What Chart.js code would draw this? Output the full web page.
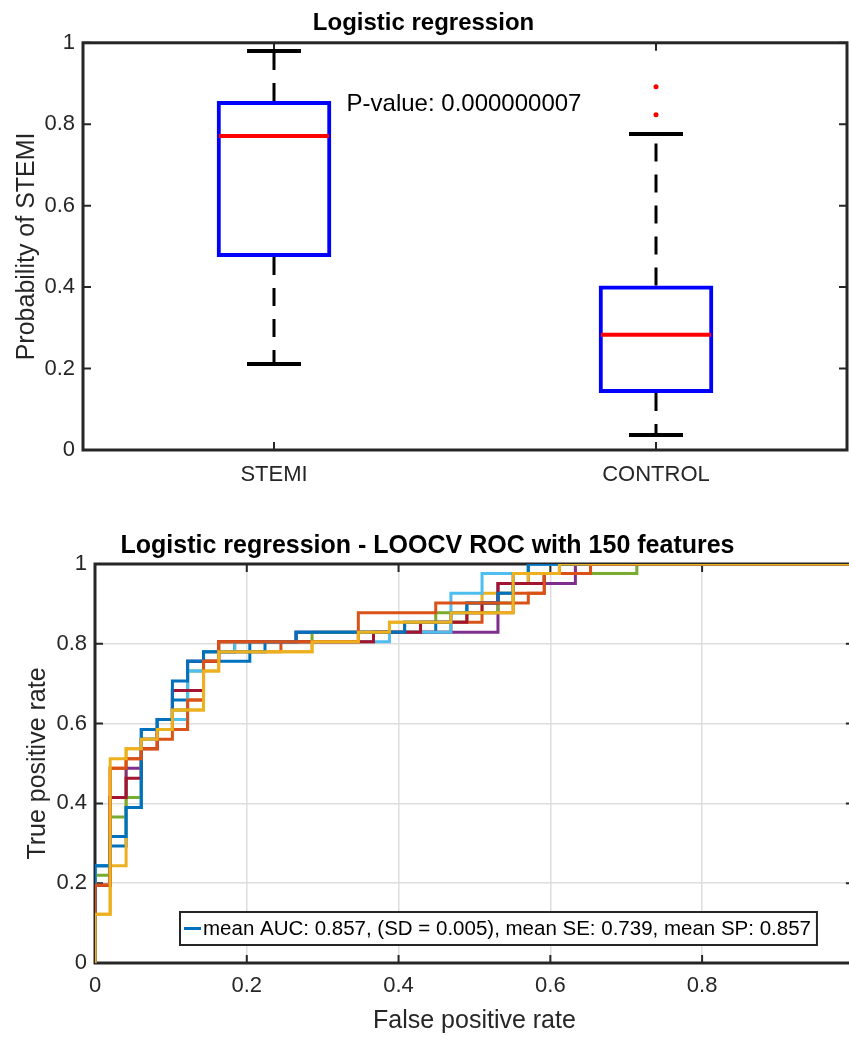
<!DOCTYPE html>
<html>
<head>
<meta charset="utf-8">
<script src="https://cdn.jsdelivr.net/npm/chart.js@4.4.1/dist/chart.umd.min.js"></script>
<style>
  body { margin: 0; background: #fff; overflow: hidden; width: 849px; height: 1037px; position: relative; }
  #boxChart { position: absolute; left: 0; top: 0; }
  #rocChart { position: absolute; left: 0; top: 495px; }
</style>
</head>
<body>
<canvas id="boxChart" width="849" height="495"></canvas>
<canvas id="rocChart" width="870" height="542"></canvas>
<script>
// box plot (probability of STEMI per group)
const groups = ["STEMI", "CONTROL"];
const q1 = [0.474, 0.140];
const q3 = [0.857, 0.404];
const medians = [0.771, 0.283];
const whiskerLow = [0.211, 0.037];
const whiskerHigh = [0.980, 0.776];
const outliers = [[], [0.892, 0.823]];
const pValueText = "P-value: 0.000000007";
const pValueAt = { x: 0.19, y: 0.85 };

// ROC curves (false positive rate, true positive rate), one per LOOCV run
const rocBlue1 = [[0,0],[0,0.244],[0.020,0.244],[0.020,0.293],[0.041,0.293],[0.041,0.390],[0.061,0.390],[0.061,0.585],[0.082,0.585],[0.082,0.610],[0.102,0.610],[0.102,0.659],[0.122,0.659],[0.122,0.756],[0.204,0.756],[0.204,0.805],[0.265,0.805],[0.265,0.829],[0.449,0.829],[0.449,0.854],[0.490,0.854],[0.490,0.902],[0.531,0.902],[0.531,0.927],[0.551,0.927],[0.551,0.951],[0.571,0.951],[0.571,1],[1,1]];
const rocOrange1 = [[0,0],[0,0.195],[0.020,0.195],[0.020,0.488],[0.041,0.488],[0.041,0.512],[0.061,0.512],[0.061,0.537],[0.082,0.537],[0.082,0.561],[0.102,0.561],[0.102,0.585],[0.122,0.585],[0.122,0.659],[0.143,0.659],[0.143,0.756],[0.163,0.756],[0.163,0.780],[0.245,0.780],[0.245,0.805],[0.367,0.805],[0.367,0.829],[0.469,0.829],[0.469,0.854],[0.510,0.854],[0.510,0.878],[0.551,0.878],[0.551,0.927],[0.592,0.927],[0.592,0.976],[0.653,0.976],[0.653,1],[1,1]];
const rocYellow1 = [[0,0],[0,0.122],[0.020,0.122],[0.020,0.244],[0.041,0.244],[0.041,0.537],[0.061,0.537],[0.061,0.561],[0.082,0.561],[0.082,0.585],[0.102,0.585],[0.102,0.634],[0.143,0.634],[0.143,0.732],[0.163,0.732],[0.163,0.780],[0.286,0.780],[0.286,0.805],[0.347,0.805],[0.347,0.829],[0.388,0.829],[0.388,0.854],[0.490,0.854],[0.490,0.878],[0.510,0.878],[0.510,0.927],[0.551,0.927],[0.551,0.951],[0.571,0.951],[0.571,0.976],[0.633,0.976],[0.633,1],[1,1]];
const rocPurple = [[0,0],[0,0.195],[0.020,0.195],[0.020,0.415],[0.041,0.415],[0.041,0.488],[0.061,0.488],[0.061,0.561],[0.082,0.561],[0.082,0.610],[0.102,0.610],[0.102,0.683],[0.122,0.683],[0.122,0.756],[0.143,0.756],[0.143,0.780],[0.184,0.780],[0.184,0.805],[0.265,0.805],[0.265,0.829],[0.531,0.829],[0.531,0.951],[0.633,0.951],[0.633,1],[1,1]];
const rocGreen = [[0,0],[0,0.220],[0.020,0.220],[0.020,0.366],[0.041,0.366],[0.041,0.415],[0.061,0.415],[0.061,0.561],[0.082,0.561],[0.082,0.585],[0.102,0.585],[0.102,0.634],[0.122,0.634],[0.122,0.732],[0.143,0.732],[0.143,0.780],[0.163,0.780],[0.163,0.805],[0.286,0.805],[0.286,0.829],[0.408,0.829],[0.408,0.854],[0.449,0.854],[0.449,0.878],[0.531,0.878],[0.531,0.902],[0.551,0.902],[0.551,0.951],[0.592,0.951],[0.592,0.976],[0.714,0.976],[0.714,1],[1,1]];
const rocLightBlue = [[0,0],[0,0.244],[0.020,0.244],[0.020,0.317],[0.041,0.317],[0.041,0.390],[0.061,0.390],[0.061,0.561],[0.082,0.561],[0.082,0.610],[0.122,0.610],[0.122,0.732],[0.143,0.732],[0.143,0.780],[0.184,0.780],[0.184,0.805],[0.388,0.805],[0.388,0.829],[0.469,0.829],[0.469,0.927],[0.510,0.927],[0.510,0.976],[0.571,0.976],[0.571,1],[1,1]];
const rocDarkRed = [[0,0],[0,0.195],[0.020,0.195],[0.020,0.415],[0.041,0.415],[0.041,0.463],[0.061,0.463],[0.061,0.537],[0.082,0.537],[0.082,0.585],[0.102,0.585],[0.102,0.683],[0.143,0.683],[0.143,0.756],[0.163,0.756],[0.163,0.805],[0.367,0.805],[0.367,0.829],[0.429,0.829],[0.429,0.854],[0.490,0.854],[0.490,0.878],[0.510,0.878],[0.510,0.902],[0.531,0.902],[0.531,0.951],[0.592,0.951],[0.592,0.976],[0.612,0.976],[0.612,1],[1,1]];
const rocBlue2 = [[0,0],[0,0.244],[0.020,0.244],[0.020,0.317],[0.041,0.317],[0.041,0.390],[0.061,0.390],[0.061,0.585],[0.082,0.585],[0.082,0.610],[0.102,0.610],[0.102,0.707],[0.122,0.707],[0.122,0.756],[0.143,0.756],[0.143,0.780],[0.224,0.780],[0.224,0.805],[0.265,0.805],[0.265,0.829],[0.408,0.829],[0.408,0.854],[0.469,0.854],[0.469,0.878],[0.490,0.878],[0.490,0.902],[0.531,0.902],[0.531,0.927],[0.551,0.927],[0.551,0.976],[0.571,0.976],[0.571,1],[1,1]];
const rocOrange2 = [[0,0],[0,0.195],[0.020,0.195],[0.020,0.488],[0.041,0.488],[0.041,0.512],[0.061,0.512],[0.061,0.537],[0.082,0.537],[0.082,0.585],[0.122,0.585],[0.122,0.659],[0.143,0.659],[0.143,0.756],[0.163,0.756],[0.163,0.805],[0.347,0.805],[0.347,0.878],[0.449,0.878],[0.449,0.902],[0.571,0.902],[0.571,0.927],[0.592,0.927],[0.592,0.976],[0.653,0.976],[0.653,1],[1,1]];
const rocYellow2 = [[0,0],[0,0.122],[0.020,0.122],[0.020,0.512],[0.041,0.512],[0.041,0.537],[0.061,0.537],[0.061,0.561],[0.082,0.561],[0.082,0.585],[0.102,0.585],[0.102,0.634],[0.143,0.634],[0.143,0.732],[0.163,0.732],[0.163,0.780],[0.286,0.780],[0.286,0.805],[0.347,0.805],[0.347,0.829],[0.388,0.829],[0.388,0.854],[0.469,0.854],[0.469,0.878],[0.551,0.878],[0.551,0.976],[0.612,0.976],[0.612,1],[1,1]];

const rocCurves = [rocBlue1, rocOrange1, rocYellow1, rocPurple, rocGreen, rocLightBlue, rocDarkRed, rocBlue2, rocOrange2, rocYellow2];
const rocColors = ["#0072BD", "#D95319", "#EDB120", "#7E2F8E", "#77AC30", "#4DBEEE", "#A2142F", "#0072BD", "#D95319", "#EDB120"];
const legendText = "mean AUC: 0.857, (SD = 0.005), mean SE: 0.739, mean SP: 0.857";

const FONT = "'Liberation Sans', Arial, Helvetica, sans-serif";
const textDark = "#262626";
Chart.defaults.font.family = FONT;
Chart.defaults.color = textDark;

// 0, 0.2, ... 1 without trailing zeros
const tickLabel = v => String(Math.round(v * 10) / 10);

// box around the axes plus MATLAB style inward ticks
const framePlugin = {
    id: "frame",
    beforeDatasetsDraw(chart) {
        const { ctx, chartArea: a, scales } = chart;
        ctx.save();
        ctx.strokeStyle = textDark;
        ctx.lineWidth = 2;
        ctx.beginPath();
        scales.x.ticks.forEach((t, i) => {
            const px = scales.x.getPixelForTick(i);
            ctx.moveTo(px, a.bottom);
            ctx.lineTo(px, a.bottom - 8);
            ctx.moveTo(px, a.top);
            ctx.lineTo(px, a.top + 8);
        });
        scales.y.ticks.forEach((t, i) => {
            const py = scales.y.getPixelForTick(i);
            ctx.moveTo(a.left, py);
            ctx.lineTo(a.left + 8, py);
            ctx.moveTo(a.right, py);
            ctx.lineTo(a.right - 8, py);
        });
        ctx.stroke();
        ctx.lineWidth = 3;
        ctx.strokeRect(a.left, a.top, a.right - a.left, a.bottom - a.top);
        ctx.restore();
    }
};

const pValuePlugin = {
    id: "pvalue",
    afterDraw(chart) {
        const { ctx, scales } = chart;
        ctx.save();
        ctx.font = "24px " + FONT;
        ctx.fillStyle = "#000";
        ctx.textAlign = "left";
        ctx.textBaseline = "middle";
        ctx.fillText(
            pValueText,
            scales.x.getPixelForValue(pValueAt.x),
            scales.y.getPixelForValue(pValueAt.y)
        );
        ctx.restore();
    }
};

const rocLegendPlugin = {
    id: "rocLegend",
    afterDraw(chart) {
        const { ctx, chartArea: a } = chart;
        const ds = chart.data.datasets.find(d => d.label);
        ctx.save();
        ctx.font = "20.5px " + FONT;
        const tw = ctx.measureText(ds.label).width;
        const x0 = a.left + 85;
        const h = 33;
        const y0 = a.bottom - 18 - h;
        const w = 24 + tw + 5;
        ctx.fillStyle = "#fff";
        ctx.fillRect(x0, y0, w, h);
        ctx.strokeStyle = textDark;
        ctx.lineWidth = 2;
        ctx.strokeRect(x0, y0, w, h);
        ctx.strokeStyle = ds.borderColor;
        ctx.lineWidth = 3;
        ctx.beginPath();
        ctx.moveTo(x0 + 4, y0 + h / 2);
        ctx.lineTo(x0 + 21, y0 + h / 2);
        ctx.stroke();
        ctx.fillStyle = "#000";
        ctx.textBaseline = "middle";
        ctx.fillText(ds.label, x0 + 23, y0 + h / 2 + 1);
        ctx.restore();
    }
};

// ---------- top: box plot ----------
const boxDatasets = [];

boxDatasets.push({
    type: "bar",
    data: groups.map((g, i) => [q1[i], q3[i]]),
    backgroundColor: "rgba(0,0,0,0)",
    borderColor: "#0000FF",
    borderWidth: 4,
    borderSkipped: false,
    barPercentage: 0.3,
    categoryPercentage: 1,
    order: 4
});

groups.forEach((g, i) => {
    const whisker = {
        type: "line",
        borderColor: "#000",
        borderWidth: 3,
        borderDash: [18, 13],
        pointRadius: 0,
        order: 5
    };
    boxDatasets.push(Object.assign({}, whisker, {
        data: [{ x: g, y: q3[i] }, { x: g, y: whiskerHigh[i] }]
    }));
    boxDatasets.push(Object.assign({}, whisker, {
        data: [{ x: g, y: q1[i] }, { x: g, y: whiskerLow[i] }]
    }));
});

// whisker caps
boxDatasets.push({
    type: "line",
    showLine: false,
    data: groups.map((g, i) => ({ x: g, y: whiskerHigh[i] }))
        .concat(groups.map((g, i) => ({ x: g, y: whiskerLow[i] }))),
    pointStyle: "line",
    pointRadius: 27,
    pointBorderColor: "#000",
    pointBorderWidth: 4,
    order: 3
});

// medians
boxDatasets.push({
    type: "line",
    showLine: false,
    data: groups.map((g, i) => ({ x: g, y: medians[i] })),
    pointStyle: "line",
    pointRadius: 55,
    pointBorderColor: "#FF0000",
    pointBorderWidth: 4,
    order: 2
});

// outliers
const outlierPoints = [];
groups.forEach((g, i) => {
    outliers[i].forEach(v => outlierPoints.push({ x: g, y: v }));
});
boxDatasets.push({
    type: "line",
    showLine: false,
    data: outlierPoints,
    pointStyle: "circle",
    pointRadius: 2.5,
    pointBackgroundColor: "#FF0000",
    pointBorderColor: "#FF0000",
    pointBorderWidth: 0,
    order: 1
});

new Chart(document.getElementById("boxChart"), {
    type: "bar",
    data: { labels: groups, datasets: boxDatasets },
    options: {
        responsive: false,
        animation: false,
        events: [],
        layout: { autoPadding: false, padding: { top: 0, right: 2, left: 0, bottom: 0 } },
        plugins: {
            legend: { display: false },
            tooltip: { enabled: false },
            title: {
                display: true,
                text: "Logistic regression",
                color: "#000",
                font: { size: 24, weight: "bold" },
                padding: { top: 9, bottom: 5 }
            }
        },
        scales: {
            x: {
                type: "category",
                offset: true,
                grid: { display: false, drawTicks: false },
                border: { display: false },
                ticks: { font: { size: 22 }, padding: 12, color: textDark },
                afterFit: s => { s.height = 45; }
            },
            y: {
                min: 0,
                max: 1,
                grid: { display: false, drawTicks: false },
                border: { display: false },
                ticks: { stepSize: 0.2, font: { size: 22 }, padding: 8, color: textDark, callback: tickLabel },
                title: {
                    display: true,
                    text: "Probability of STEMI",
                    color: textDark,
                    font: { size: 25 },
                    padding: { top: 12, bottom: 0 }
                },
                afterFit: s => { s.width = 83; }
            }
        }
    },
    plugins: [framePlugin, pValuePlugin]
});

// ---------- bottom: ROC curves ----------
const rocDatasets = rocCurves.map((curve, i) => ({
    label: i === 0 ? legendText : undefined,
    data: curve,
    borderColor: rocColors[i],
    borderWidth: 3,
    pointRadius: 0,
    tension: 0,
    fill: false,
    // later runs are painted over earlier ones
    order: rocCurves.length - i
}));

new Chart(document.getElementById("rocChart"), {
    type: "line",
    data: { datasets: rocDatasets },
    options: {
        responsive: false,
        animation: false,
        events: [],
        layout: { autoPadding: false, padding: { top: 0, right: 15, left: 0, bottom: 0 } },
        plugins: {
            legend: { display: false },
            tooltip: { enabled: false },
            title: {
                display: true,
                text: "Logistic regression - LOOCV ROC with 150 features",
                color: "#000",
                font: { size: 25, weight: "bold" },
                padding: { top: 36, bottom: 3 }
            }
        },
        scales: {
            x: {
                type: "linear",
                min: 0,
                max: 1,
                grid: { color: "#dedede", lineWidth: 1.5, drawTicks: false },
                border: { display: false },
                ticks: { stepSize: 0.2, font: { size: 22 }, padding: 10, color: textDark, callback: tickLabel },
                title: {
                    display: true,
                    text: "False positive rate",
                    color: textDark,
                    font: { size: 25 },
                    padding: { top: 0, bottom: 1 }
                },
                afterFit: s => { s.height = 74; }
            },
            y: {
                min: 0,
                max: 1,
                grid: { color: "#dedede", lineWidth: 1.5, drawTicks: false },
                border: { display: false },
                ticks: { stepSize: 0.2, font: { size: 22 }, padding: 8, color: textDark, callback: tickLabel },
                title: {
                    display: true,
                    text: "True positive rate",
                    color: textDark,
                    font: { size: 25 },
                    padding: { top: 23, bottom: 0 }
                },
                afterFit: s => { s.width = 95; }
            }
        }
    },
    plugins: [framePlugin, rocLegendPlugin]
});
</script>
</body>
</html>
